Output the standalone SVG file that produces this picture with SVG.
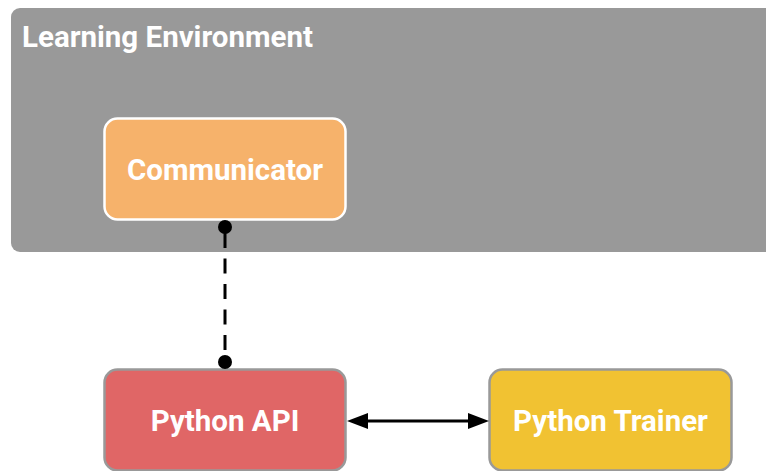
<svg xmlns="http://www.w3.org/2000/svg" width="766" height="471" viewBox="0 0 766 471">
<style>
.t{font-family:Roboto,"Liberation Sans",sans-serif;font-weight:bold;fill:#fff;font-size:29.5px}
.c{text-anchor:middle}
.box{stroke-width:2.5}
</style>
<rect width="766" height="471" fill="#fff"/>
<g id="learning-environment">
<rect x="11" y="8" width="800" height="244" rx="9" fill="#999999"/>
<text class="t" x="22" y="47">Learning Environment</text>
</g>
<g id="communicator">
<rect class="box" x="104.5" y="118.5" width="241" height="101" rx="13" fill="#f6b26b" stroke="#fff"/>
<text class="t c" x="225" y="180">Communicator</text>
</g>
<g id="python-api">
<rect class="box" x="104.5" y="369.5" width="241" height="101" rx="13" fill="#e06666" stroke="#999"/>
<text class="t c" x="225" y="431">Python API</text>
</g>
<g id="python-trainer">
<rect class="box" x="489.5" y="369.5" width="242" height="101" rx="13" fill="#f1c232" stroke="#999"/>
<text class="t c" x="610.5" y="431">Python Trainer</text>
</g>
<g id="connectors">
<line x1="225" y1="233" x2="225" y2="362" stroke="#000" stroke-width="3" stroke-dasharray="15,10.5"/>
<circle cx="225" cy="227" r="7" fill="#000"/>
<circle cx="225" cy="362" r="7" fill="#000"/>
<line x1="360" y1="421" x2="476" y2="421" stroke="#000" stroke-width="3"/>
<path d="M347,421 L368,413 L368,429 z" fill="#000"/>
<path d="M489,421 L468,413 L468,429 z" fill="#000"/>
</g>
</svg>
